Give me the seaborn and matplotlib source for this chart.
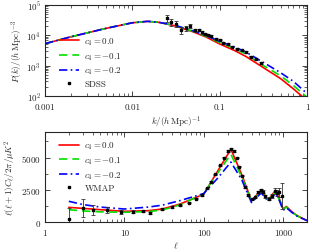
import numpy as np
import seaborn as sns
from matplotlib import pyplot as plt
from matplotlib.lines import Line2D
from matplotlib.ticker import MultipleLocator, FixedLocator

# matter power spectrum
k_grid = [0.001, 0.002, 0.005, 0.01, 0.015, 0.02, 0.03, 0.05, 0.07, 0.1,
          0.15, 0.2, 0.3, 0.5, 0.7, 1.0]
pk_c0 = [5.3e3, 9e3, 1.7e4, 2.6e4, 2.9e4, 2.7e4, 2.1e4, 1.3e4, 8.8e3, 5.2e3,
         3.1e3, 2.0e3, 9.5e2, 3.7e2, 1.7e2, 7e1]
pk_c1 = [5.3e3, 9e3, 1.7e4, 2.6e4, 2.9e4, 2.7e4, 2.15e4, 1.35e4, 9.3e3, 5.8e3,
         3.6e3, 2.4e3, 1.1e3, 4.6e2, 2.2e2, 9e1]
pk_c2 = [5.3e3, 9e3, 1.7e4, 2.6e4, 2.9e4, 2.7e4, 2.2e4, 1.4e4, 9.8e3, 6.3e3,
         4.1e3, 2.8e3, 1.4e3, 5.8e2, 3e2, 1.2e2]

sdss_k = [0.025, 0.028, 0.032, 0.036, 0.041, 0.046, 0.052, 0.058, 0.063, 0.068,
          0.074, 0.08, 0.09, 0.1, 0.11, 0.125, 0.14, 0.16, 0.18, 0.2,
          0.23, 0.26, 0.3]
sdss_p = [3.7e4, 2.8e4, 2.4e4, 1.5e4, 1.7e4, 2.0e4, 1.45e4, 1.5e4, 1.25e4, 1.1e4,
          1.05e4, 9.5e3, 7.8e3, 7.2e3, 5.8e3, 5.2e3, 4.2e3, 3.6e3, 3.2e3, 2.8e3,
          2.0e3, 1.6e3, 1.2e3]
sdss_err = [0.25, 0.25, 0.22, 0.25, 0.18, 0.15, 0.12, 0.1, 0.09, 0.08,
            0.07, 0.06, 0.06, 0.05, 0.05, 0.05, 0.05, 0.05, 0.05, 0.05,
            0.05, 0.06, 0.07]

# CMB temperature spectrum
ell_grid = [2, 3, 5, 10, 20, 30, 50, 100, 150, 220, 300, 400, 530, 650, 800,
            900, 1000, 1100, 1300, 1500, 2000]
cl_c0 = [1130, 1050, 950, 820, 870, 1000, 1380, 2150, 3950, 5650, 3700, 1650,
         2480, 1700, 2450, 1770, 1000, 1200, 770, 490, 100]
cl_c1 = [950, 850, 780, 750, 800, 920, 1320, 2200, 3800, 5250, 3500, 1600,
         2350, 1650, 2350, 1700, 980, 1150, 740, 470, 100]
cl_c2 = [1600, 1350, 1150, 1000, 1150, 1300, 1650, 2200, 3400, 4650, 3300, 1500,
         2250, 1600, 2200, 1650, 900, 1100, 720, 450, 100]

wmap_l = [2, 3, 4, 6, 9, 13, 17, 21, 30, 40, 50, 65, 80, 95, 110, 125, 140,
          160, 180, 200, 220, 240, 260, 280, 300, 330, 360, 400, 440, 480, 520,
          560, 600, 660, 720, 780, 830, 900, 975]
wmap_cl = [200, 1080, 920, 900, 780, 800, 850, 700, 1000, 1150, 1300, 1500,
           1800, 2100, 2600, 3100, 3700, 4400, 5000, 5500, 5650, 5500, 5000,
           4300, 3600, 2700, 2100, 1750, 1900, 2300, 2450, 2350, 2000, 1800,
           2000, 2400, 2250, 2300, 2000]
wmap_err = [850, 700, 380, 230, 150, 120, 100, 90, 70, 60, 50, 50, 50, 50, 50,
            50, 60, 60, 70, 70, 70, 70, 70, 70, 60, 60, 60, 60, 70, 80, 90,
            100, 110, 130, 160, 200, 250, 350, 1000]

labels = ['$c_4=0.0$', '$c_4=-0.1$', '$c_4=-0.2$']
colors = ['#ff0000', '#00e000', '#0000ff']
styles = ['-', (0, (5, 3)), (0, (5, 2, 1, 2))]

sns.set_style('ticks')
plt.rcParams['font.family'] = ['cmr10', 'DejaVu Serif']
plt.rcParams['mathtext.fontset'] = 'cm'
plt.rcParams['axes.formatter.use_mathtext'] = True
plt.rcParams['font.size'] = 6.5

fig = plt.figure(figsize=(3.12, 2.53), dpi=100)
ax1 = fig.add_axes([0.144, 0.617, 0.84, 0.359])
ax2 = fig.add_axes([0.144, 0.119, 0.84, 0.356])

leg_kw = dict(frameon=False, fontsize=6.5, handlelength=2.2, handletextpad=0.6,
              labelspacing=0.35, borderpad=0.2)

# top panel
ax1.set_xscale('log')
ax1.set_yscale('log')
for pk, lab, c, ls in zip([pk_c0, pk_c1, pk_c2], labels, colors, styles):
    sns.lineplot(x=k_grid, y=pk, color=c, linestyle=ls, lw=1.2, label=lab, ax=ax1)
sdss_p = np.array(sdss_p)
err = sdss_p * np.array(sdss_err)
ax1.errorbar(sdss_k, sdss_p, yerr=err, fmt='s', ms=2, color='black',
             ecolor='#333333', elinewidth=0.6, capsize=1.5, capthick=0.6)
ax1.set_xlim(0.001, 1)
ax1.set_ylim(1e2, 1e5)
ax1.xaxis.set_major_locator(FixedLocator([0.001, 0.01, 0.1, 1]))
ax1.set_xticklabels(['0.001', '0.01', '0.1', '1'])
ax1.set_xlabel(r'$k/(h\,\mathrm{Mpc})^{-1}$', labelpad=2)
ax1.set_ylabel(r'$P(k)/(h\,\mathrm{Mpc})^{-3}$', labelpad=1)
h, l = ax1.get_legend_handles_labels()
h.append(Line2D([], [], marker='s', ms=1.8, ls='none', color='black'))
l.append('SDSS')
ax1.legend(h, l, loc='lower left', bbox_to_anchor=(0.03, 0.02), **leg_kw)

# bottom panel
ax2.set_xscale('log')
for cl, lab, c, ls in zip([cl_c0, cl_c1, cl_c2], labels, colors, styles):
    sns.lineplot(x=ell_grid, y=cl, color=c, linestyle=ls, lw=1.2, label=lab, ax=ax2)
ax2.errorbar(wmap_l, wmap_cl, yerr=wmap_err, fmt='s', ms=2, color='black',
             ecolor='#333333', elinewidth=0.6, capsize=1.5, capthick=0.6)
ax2.set_xlim(1, 2000)
ax2.set_ylim(0, 7000)
ax2.xaxis.set_major_locator(FixedLocator([1, 10, 100, 1000]))
ax2.set_xticklabels(['1', '10', '100', '1000'])
ax2.yaxis.set_major_locator(FixedLocator([0, 2500, 5000]))
ax2.yaxis.set_minor_locator(MultipleLocator(1250))
ax2.set_xlabel(r'$\ell$', labelpad=2)
ax2.set_ylabel(r'$\ell(\ell+1)C_\ell/2\pi/\mu K^2$', labelpad=2)
h, l = ax2.get_legend_handles_labels()
h.append(Line2D([], [], marker='s', ms=1.8, ls='none', color='black'))
l.append('WMAP')
ax2.legend(h, l, loc='upper left', bbox_to_anchor=(0.03, 0.98), **leg_kw)

for ax in (ax1, ax2):
    ax.tick_params(which='both', direction='in', top=True, right=True,
                   labelsize=6.5)
    ax.tick_params(axis='x', pad=5)
    ax.tick_params(axis='y', pad=3)
    ax.tick_params(which='major', length=3.5, width=0.6)
    ax.tick_params(which='minor', length=2, width=0.5)
    for s in ax.spines.values():
        s.set_linewidth(0.8)

fig.savefig('out.png', dpi=100)
